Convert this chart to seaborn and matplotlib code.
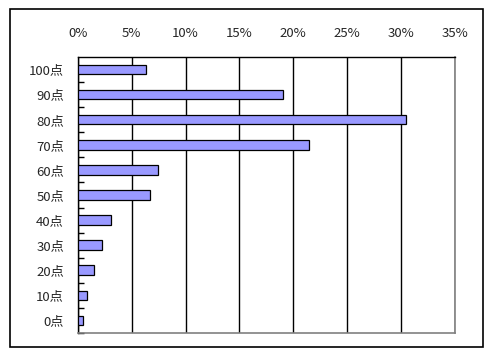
import numpy as np
import pandas as pd
import seaborn as sns
import matplotlib.pyplot as plt
from matplotlib.patches import Rectangle
from matplotlib.ticker import MultipleLocator, PercentFormatter

# score distribution (share of students, %)
scores = ['100点', '90点', '80点', '70点', '60点', '50点', '40点', '30点', '20点', '10点', '0点']
shares = [6.3, 19.0, 30.5, 21.5, 7.4, 6.7, 3.1, 2.2, 1.45, 0.87, 0.5]

data = pd.DataFrame({'Score': scores, 'Share': shares})

sns.set_style("white")
plt.rcParams['font.family'] = ['Noto Sans CJK JP', 'DejaVu Sans']

fig = plt.figure(figsize=(4.9, 3.53), dpi=100)
ax = fig.add_axes([0.159, 0.0567, 0.7694, 0.782])

sns.barplot(x='Share', y='Score', data=data, order=scores, orient='h',
            color='#9999FF', saturation=1, width=0.38,
            edgecolor='black', linewidth=0.9, ax=ax, zorder=3)

ax.set_xlim(0, 35)
ax.set_ylim(len(scores) - 0.5, -0.5)
ax.xaxis.set_major_locator(MultipleLocator(5))
ax.xaxis.set_major_formatter(PercentFormatter(decimals=0))
ax.xaxis.tick_top()
ax.tick_params(axis='x', length=0, pad=12, labelsize=9.5)
ax.tick_params(axis='y', which='major', left=False, length=0, pad=10, labelsize=9.5)
ax.set_yticks(np.arange(len(scores)) + 0.5, minor=True)
ax.tick_params(axis='y', which='minor', left=True, direction='in',
               length=4, width=1, color='black')
ax.set_xlabel('')
ax.set_ylabel('')

# vertical gridlines
ax.grid(axis='x', color='black', linewidth=1)
ax.set_axisbelow(True)

for side in ['left', 'top']:
    ax.spines[side].set_color('black')
    ax.spines[side].set_linewidth(1)
for side in ['right', 'bottom']:
    ax.spines[side].set_color('#808080')
    ax.spines[side].set_linewidth(1.2)

# outer chart frame
fig.patches.append(Rectangle((0.0204, 0.017), 0.9653, 0.9575, transform=fig.transFigure,
                             fill=False, edgecolor='black', linewidth=1.2))

plt.savefig('out.png', dpi=100)
